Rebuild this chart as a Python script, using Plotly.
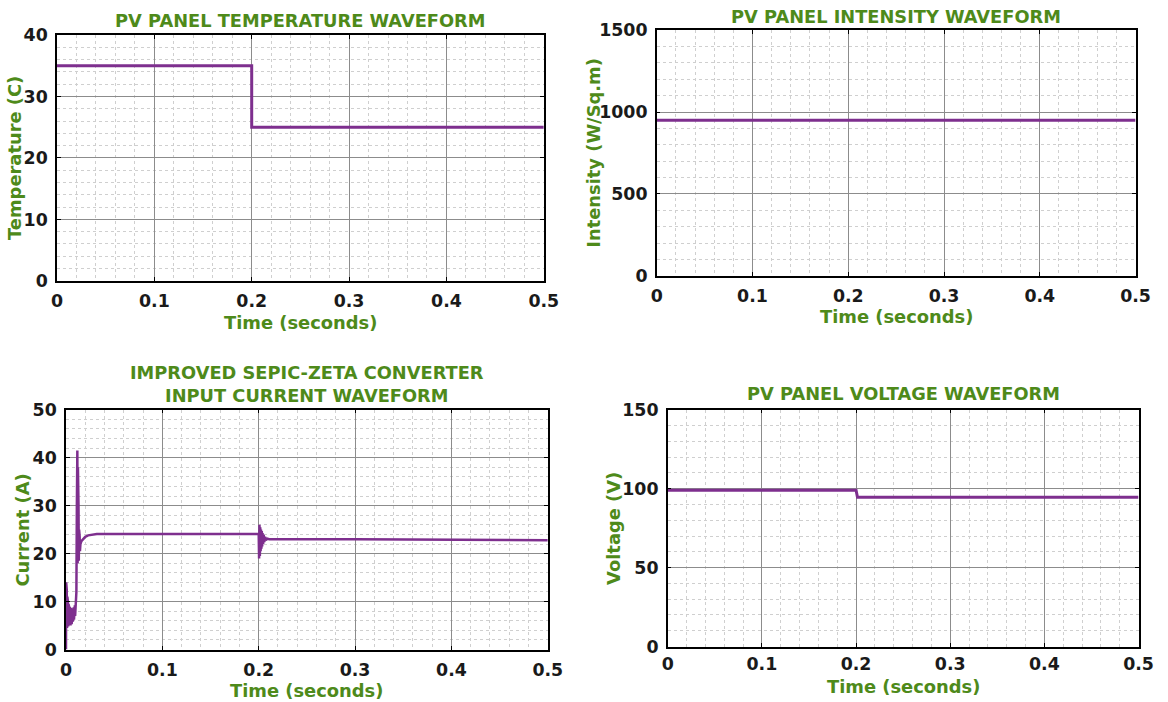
import plotly.graph_objects as go

W, H = 1168, 702

# ---- data ----
temp_t = [0.0, 0.2, 0.2, 0.5]
temp_v = [35, 35, 25, 25]

int_t = [0.0, 0.5]
int_v = [950, 950]

volt_t = [0.0, 0.2, 0.2015, 0.5]
volt_v = [99, 99, 94.5, 94.5]

cur_t = [0.0, 0.0002, 0.0005, 0.0008, 0.0011, 0.0014, 0.0017, 0.0020, 0.0023, 0.0026,
         0.0029, 0.0032, 0.0035, 0.0038, 0.0041, 0.0044, 0.0047, 0.0050, 0.0053, 0.0056,
         0.0059, 0.0062, 0.0065, 0.0068, 0.0071, 0.0074, 0.0077, 0.0080, 0.0083, 0.0086,
         0.0089, 0.0092, 0.0095, 0.0098, 0.0101, 0.0104, 0.0108, 0.0113, 0.0118, 0.0121,
         0.0124, 0.0127, 0.0130, 0.0133, 0.0136, 0.0139, 0.0142, 0.0145, 0.0150, 0.0160,
         0.0180, 0.0200, 0.0230, 0.0270, 0.0320, 0.0400, 0.1000, 0.2000, 0.2004, 0.2008,
         0.2012, 0.2016, 0.2020, 0.2024, 0.2028, 0.2032, 0.2036, 0.2040, 0.2046, 0.2052,
         0.2058, 0.2066, 0.2075, 0.2090, 0.2110, 0.3000, 0.4000, 0.5000]
cur_v = [0.0, 14.0, 4.0, 12.5, 4.5, 11.0, 4.5, 10.0, 4.8, 9.5,
         4.8, 9.0, 5.0, 8.8, 5.0, 8.6, 5.0, 8.5, 5.2, 8.4,
         5.3, 8.4, 5.5, 8.5, 5.8, 8.6, 6.0, 8.8, 6.2, 9.0,
         6.5, 9.2, 7.0, 9.5, 7.5, 10.0, 12.0, 30.0, 41.5, 18.0,
         38.0, 18.0, 30.0, 18.5, 25.0, 19.0, 23.5, 20.5, 22.0, 22.6,
         23.1, 23.5, 23.8, 24.0, 24.1, 24.1, 24.1, 24.1, 19.0, 26.0,
         19.5, 25.5, 20.5, 25.0, 21.0, 24.7, 21.5, 24.3, 22.0, 23.9,
         22.4, 23.5, 22.8, 23.1, 23.0, 23.0, 22.9, 22.8]

x_ticks = [0, 0.1, 0.2, 0.3, 0.4, 0.5]
x_tick_text = ["0", "0.1", "0.2", "0.3", "0.4", "0.5"]

titles = ["PV PANEL TEMPERATURE WAVEFORM",
          "PV PANEL INTENSITY WAVEFORM",
          "IMPROVED SEPIC-ZETA CONVERTER<br>INPUT CURRENT WAVEFORM",
          "PV PANEL VOLTAGE WAVEFORM"]
y_titles = ["Temperature (C)", "Intensity (W/Sq.m)", "Current (A)", "Voltage (V)"]
x_title = "Time (seconds)"

LINE = "#7E2F8E"
GREEN = "#4E8A1A"
FONT = "DejaVu Sans"

# the photographed page comes out slightly shrunk and offset; pre-compensate
SX, OX, SY, OY = 0.9824, 6.0, 0.9724, 8.9
def px(x):
    return (x - OX) / SX
def py(y):
    return (y - OY) / SY
FS = 1.0 / 0.978

# plot area boxes in target pixels: (left, right, top, bottom)
boxes = [(57, 544, 34, 280), (657, 1136, 29, 275), (66, 548, 409, 649), (668, 1139, 409, 646)]
y_ranges = [(0, 40, 10, 2), (0, 1500, 500, 100), (0, 50, 10, 2), (0, 150, 50, 10)]
series = [(temp_t, temp_v, 3), (int_t, int_v, 3), (cur_t, cur_v, 2.5), (volt_t, volt_v, 3)]
title_y = [19, 15, 383, 393]
xlab_y = [322, 316, 690, 686]
ylab_x = [15, 594, 23, 613]
x_standoff = [4, 4, 4, 1]

fig = go.Figure()
for i in range(4):
    l, r, t, b = boxes[i]
    l, r, t, b = px(l), px(r), py(t), py(b)
    xa = "xaxis" if i == 0 else f"xaxis{i+1}"
    ya = "yaxis" if i == 0 else f"yaxis{i+1}"
    xr = "x" if i == 0 else f"x{i+1}"
    yr = "y" if i == 0 else f"y{i+1}"
    xs, ys, w = series[i]
    fig.add_trace(go.Scatter(x=xs, y=ys, mode="lines", line=dict(color=LINE, width=w),
                             xaxis=xr, yaxis=yr, showlegend=False, hoverinfo="skip"))
    y0, y1, dt, mdt = y_ranges[i]
    common = dict(showline=True, linecolor="black", linewidth=1.5, mirror="ticks",
                  ticks="inside", ticklen=4, tickcolor="black",
                  showgrid=True, gridcolor="#8c8c8c", gridwidth=1, zeroline=False,
                  tickfont=dict(family=FONT, size=17 * FS, color="#1a1a1a", weight="bold"))
    fig.layout[xa] = dict(domain=[l / W, r / W], range=[0, 0.5], anchor=yr,
                          tickvals=x_ticks, ticktext=x_tick_text,
                          ticklabelstandoff=x_standoff[i],
                          minor=dict(dtick=0.02, showgrid=True, gridcolor="#cfcfcf",
                                     griddash="dot", gridwidth=1, ticks=""),
                          **common)
    fig.layout[ya] = dict(domain=[1 - b / H, 1 - t / H], range=[y0, y1], anchor=xr,
                          dtick=dt, tick0=0, ticklabelstandoff=4,
                          minor=dict(dtick=mdt, showgrid=True, gridcolor="#cfcfcf",
                                     griddash="dot", gridwidth=1, ticks=""),
                          **common)
    cx = (l + r) / 2
    fig.add_annotation(x=cx / W, y=1 - py(title_y[i]) / H, xref="paper", yref="paper",
                       text=titles[i], showarrow=False, xanchor="center", yanchor="middle",
                       font=dict(family=FONT, size=17.4 * FS, color=GREEN, weight="bold"))
    fig.add_annotation(x=cx / W, y=1 - py(xlab_y[i]) / H, xref="paper", yref="paper",
                       text=x_title, showarrow=False, xanchor="center", yanchor="middle",
                       font=dict(family=FONT, size=17.5 * FS, color=GREEN, weight="bold"))
    fig.add_annotation(x=px(ylab_x[i]) / W, y=1 - (t + b) / 2 / H, xref="paper", yref="paper",
                       text=y_titles[i], showarrow=False, xanchor="center", yanchor="middle",
                       textangle=-90,
                       font=dict(family=FONT, size=17.5 * FS, color=GREEN, weight="bold"))

fig.update_layout(width=W, height=H, margin=dict(l=0, r=0, t=0, b=0, pad=0),
                  paper_bgcolor="white", plot_bgcolor="white")
fig.write_html("out.html", config={"displayModeBar": False},
               post_script="document.body.style.margin='0';"
                           "document.body.style.overflow='hidden';"
                           "document.documentElement.style.overflow='hidden';")
